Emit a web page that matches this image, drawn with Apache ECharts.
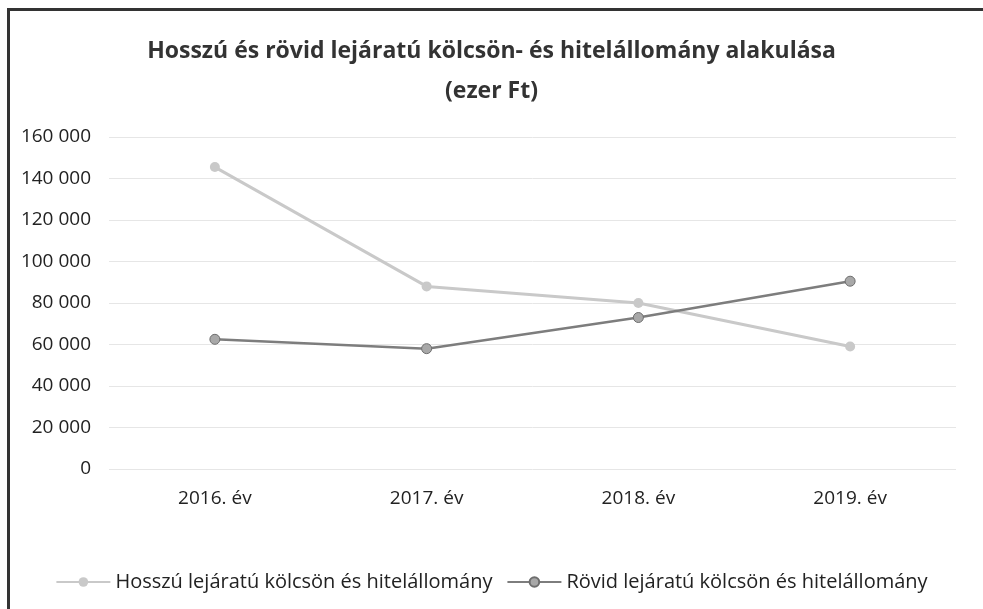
<!DOCTYPE html>
<html><head><meta charset="utf-8">
<script src="https://cdn.jsdelivr.net/npm/echarts@6/dist/echarts.min.js"></script>
<style>html,body{margin:0;padding:0;background:#fff}#c{width:983px;height:609px}</style>
</head><body><div id="c"></div>
<script>
const categories = ['2016. év', '2017. év', '2018. év', '2019. év'];
const hosszuValues = [145500, 88000, 80000, 59000];
const rovidValues = [62500, 58000, 73000, 90500];
const seriesNames = ['Hosszú lejáratú kölcsön és hitelállomány', 'Rövid lejáratú kölcsön és hitelállomány'];
const titleText = 'Hosszú és rövid lejáratú kölcsön- és hitelállomány alakulása\n(ezer Ft)';

const chart = echarts.init(document.getElementById('c'));
const fontFam = '"Open Sans", "Noto Sans", sans-serif';
chart.setOption({
  backgroundColor: '#fff',
  animation: false,
  graphic: [
    {type:'rect', shape:{x:7,y:8,width:976,height:3}, style:{fill:'#333'}},
    {type:'rect', shape:{x:7,y:8,width:3,height:601}, style:{fill:'#333'}}
  ],
  title: {
    text: titleText,
    left: 'center', top: 26,
    textStyle: {fontFamily: fontFam, fontSize: 23, fontWeight: 'bold', color: '#333', lineHeight: 40}
  },
  legend: {
    bottom: 12, left: 'center', itemGap: 14, itemWidth: 54, itemHeight: 12,
    textStyle: {fontFamily: fontFam, fontSize: 20, color: '#222'},
    data: seriesNames
  },
  grid: {left: 109, right: 27, top: 137, bottom: 140},
  xAxis: {
    type: 'category', data: categories, boundaryGap: true,
    axisLine: {show: false}, axisTick: {show: false},
    axisLabel: {fontFamily: fontFam, fontSize: 19, color: '#222', margin: 20}
  },
  yAxis: {
    type: 'value', min: 0, max: 160000, interval: 20000,
    axisLine: {show: false}, axisTick: {show: false},
    splitLine: {lineStyle: {color: '#e6e6e6', width: 1}},
    axisLabel: {fontFamily: fontFam, fontSize: 19, color: '#222', margin: 18,
      formatter: v => v === 0 ? '0' : String(v).replace(/\B(?=(\d{3})+(?!\d))/g, ' ')}
  },
  series: [
    {name: seriesNames[0], type: 'line', data: hosszuValues, symbol: 'circle', symbolSize: 10,
     lineStyle: {color: '#c9c9c9', width: 3}, itemStyle: {color: '#c9c9c9'}},
    {name: seriesNames[1], type: 'line', data: rovidValues, symbol: 'circle', symbolSize: 10,
     lineStyle: {color: '#7d7d7d', width: 2.5}, itemStyle: {color: '#a8a8a8', borderColor: '#6e6e6e', borderWidth: 1}}
  ]
});
</script></body></html>
